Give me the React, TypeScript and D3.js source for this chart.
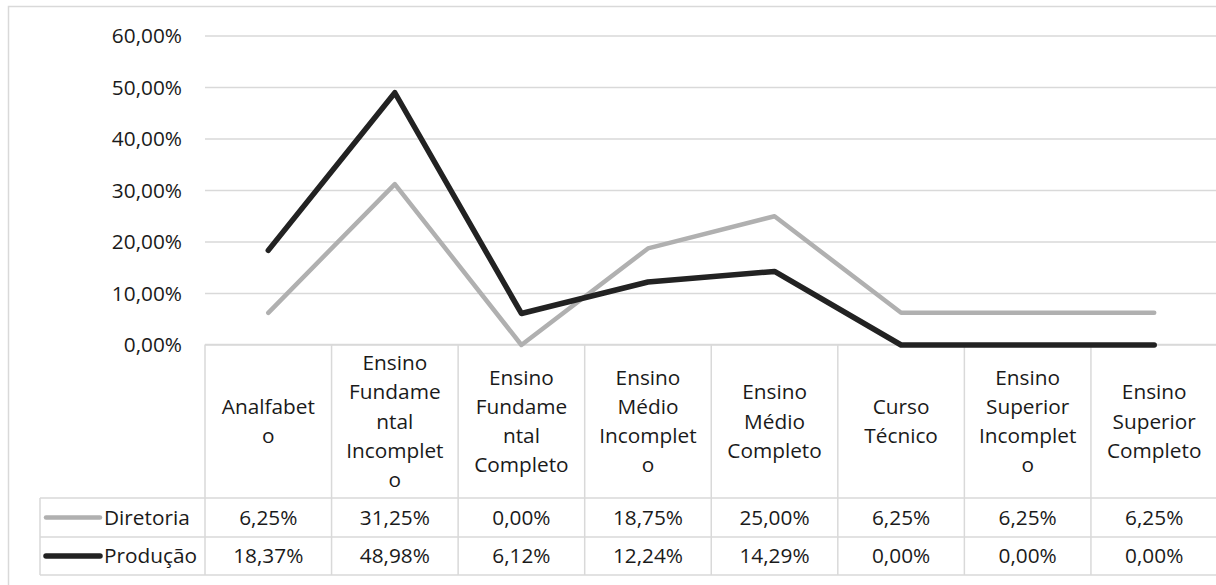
import React from "react";
import * as d3 from "d3";

const categories = [
  "Analfabeto",
  "Ensino Fundamental Incompleto",
  "Ensino Fundamental Completo",
  "Ensino Médio Incompleto",
  "Ensino Médio Completo",
  "Curso Técnico",
  "Ensino Superior Incompleto",
  "Ensino Superior Completo",
];
const categoryLines = [
  ["Analfabet", "o"],
  ["Ensino", "Fundame", "ntal", "Incomplet", "o"],
  ["Ensino", "Fundame", "ntal", "Completo"],
  ["Ensino", "Médio", "Incomplet", "o"],
  ["Ensino", "Médio", "Completo"],
  ["Curso", "Técnico"],
  ["Ensino", "Superior", "Incomplet", "o"],
  ["Ensino", "Superior", "Completo"],
];
const seriesNames = ["Diretoria", "Produção"];
const diretoria = [6.25, 31.25, 0.0, 18.75, 25.0, 6.25, 6.25, 6.25];
const producao = [18.37, 48.98, 6.12, 12.24, 14.29, 0.0, 0.0, 0.0];
const yTicks = [0, 10, 20, 30, 40, 50, 60];

const W = 1216;
const H = 585;
const FONT = "'Open Sans', sans-serif";
const FS = 20.8;
const TEXT = "#1a1a1a";
const GRID = "#d9d9d9";
const colors = ["#b0b0b0", "#222222"];
const widths = [4.5, 5.5];

const fmt = (v: number) => v.toFixed(2).replace(".", ",") + "%";

export default function App() {
  const x = d3.scaleBand<string>().domain(categories).range([205, 1217.5]).padding(0);
  const y = d3.scaleLinear().domain([0, 60]).range([345, 36]);
  const tableTop = 344.5;
  const catBottom = 498;
  const row1Bottom = 537;
  const row2Bottom = 575;
  const legendLeft = 40;
  const lineH = 29.3;
  const series = [diretoria, producao];

  const line = d3
    .line<number>()
    .x((_, i) => (x(categories[i]) as number) + x.bandwidth() / 2)
    .y((d) => y(d));

  const colEdges = categories.map((c) => x(c) as number);
  const rightEdge = x.range()[1];

  return (
    <svg
      width={W}
      height={H}
      style={{ position: "absolute", left: 0, top: 0, background: "#fff" }}
      fontFamily={FONT}
      fontSize={FS}
    >
      {/* outer chart border */}
      <rect x={8.5} y={6.5} width={W + 10} height={H + 10} fill="none" stroke={GRID} strokeWidth={1.5} />

      {/* gridlines */}
      {yTicks.map((t) => (
        <line key={"g" + t} x1={205} x2={W} y1={y(t)} y2={y(t)} stroke={GRID} strokeWidth={1.5} />
      ))}
      {/* y labels */}
      {yTicks.map((t) => (
        <text key={"yl" + t} x={182} y={y(t)} dy="0.35em" textAnchor="end" fill={TEXT}>
          {fmt(t)}
        </text>
      ))}

      {/* table grid */}
      <g stroke={GRID} strokeWidth={1.5} fill="none">
        <line x1={205} x2={W} y1={tableTop} y2={tableTop} />
        <line x1={legendLeft} x2={W} y1={catBottom} y2={catBottom} />
        <line x1={legendLeft} x2={W} y1={row1Bottom} y2={row1Bottom} />
        <line x1={legendLeft} x2={W} y1={row2Bottom} y2={row2Bottom} />
        <line x1={legendLeft} x2={legendLeft} y1={catBottom} y2={row2Bottom} />
        {colEdges.map((e, i) => (
          <line key={"c" + i} x1={e} x2={e} y1={tableTop} y2={row2Bottom} />
        ))}
        <line x1={rightEdge} x2={rightEdge} y1={tableTop} y2={row2Bottom} />
      </g>

      {/* category labels */}
      {categories.map((c, i) => {
        const cx = (x(c) as number) + x.bandwidth() / 2;
        const lines = categoryLines[i];
        const mid = (tableTop + catBottom) / 2;
        const start = mid - ((lines.length - 1) * lineH) / 2;
        return (
          <text key={"cat" + i} textAnchor="middle" fill={TEXT}>
            {lines.map((l, j) => (
              <tspan key={j} x={cx} y={start + j * lineH} dy="0.35em">
                {l}
              </tspan>
            ))}
          </text>
        );
      })}

      {/* data rows */}
      {series.map((s, si) => {
        const top = si === 0 ? catBottom : row1Bottom;
        const bottom = si === 0 ? row1Bottom : row2Bottom;
        const cy = (top + bottom) / 2;
        return (
          <g key={"row" + si}>
            <line x1={46} x2={100} y1={cy} y2={cy} stroke={colors[si]} strokeWidth={widths[si]} strokeLinecap="round" />
            <text x={104} y={cy} dy="0.35em" fill={TEXT}>
              {seriesNames[si]}
            </text>
            {s.map((v, i) => (
              <text
                key={i}
                x={(x(categories[i]) as number) + x.bandwidth() / 2}
                y={cy}
                dy="0.35em"
                textAnchor="middle"
                fill={TEXT}
              >
                {fmt(v)}
              </text>
            ))}
          </g>
        );
      })}

      {/* series lines */}
      {series.map((s, si) => (
        <path
          key={"l" + si}
          d={line(s) as string}
          fill="none"
          stroke={colors[si]}
          strokeWidth={widths[si]}
          strokeLinejoin="round"
          strokeLinecap="round"
        />
      ))}
    </svg>
  );
}
